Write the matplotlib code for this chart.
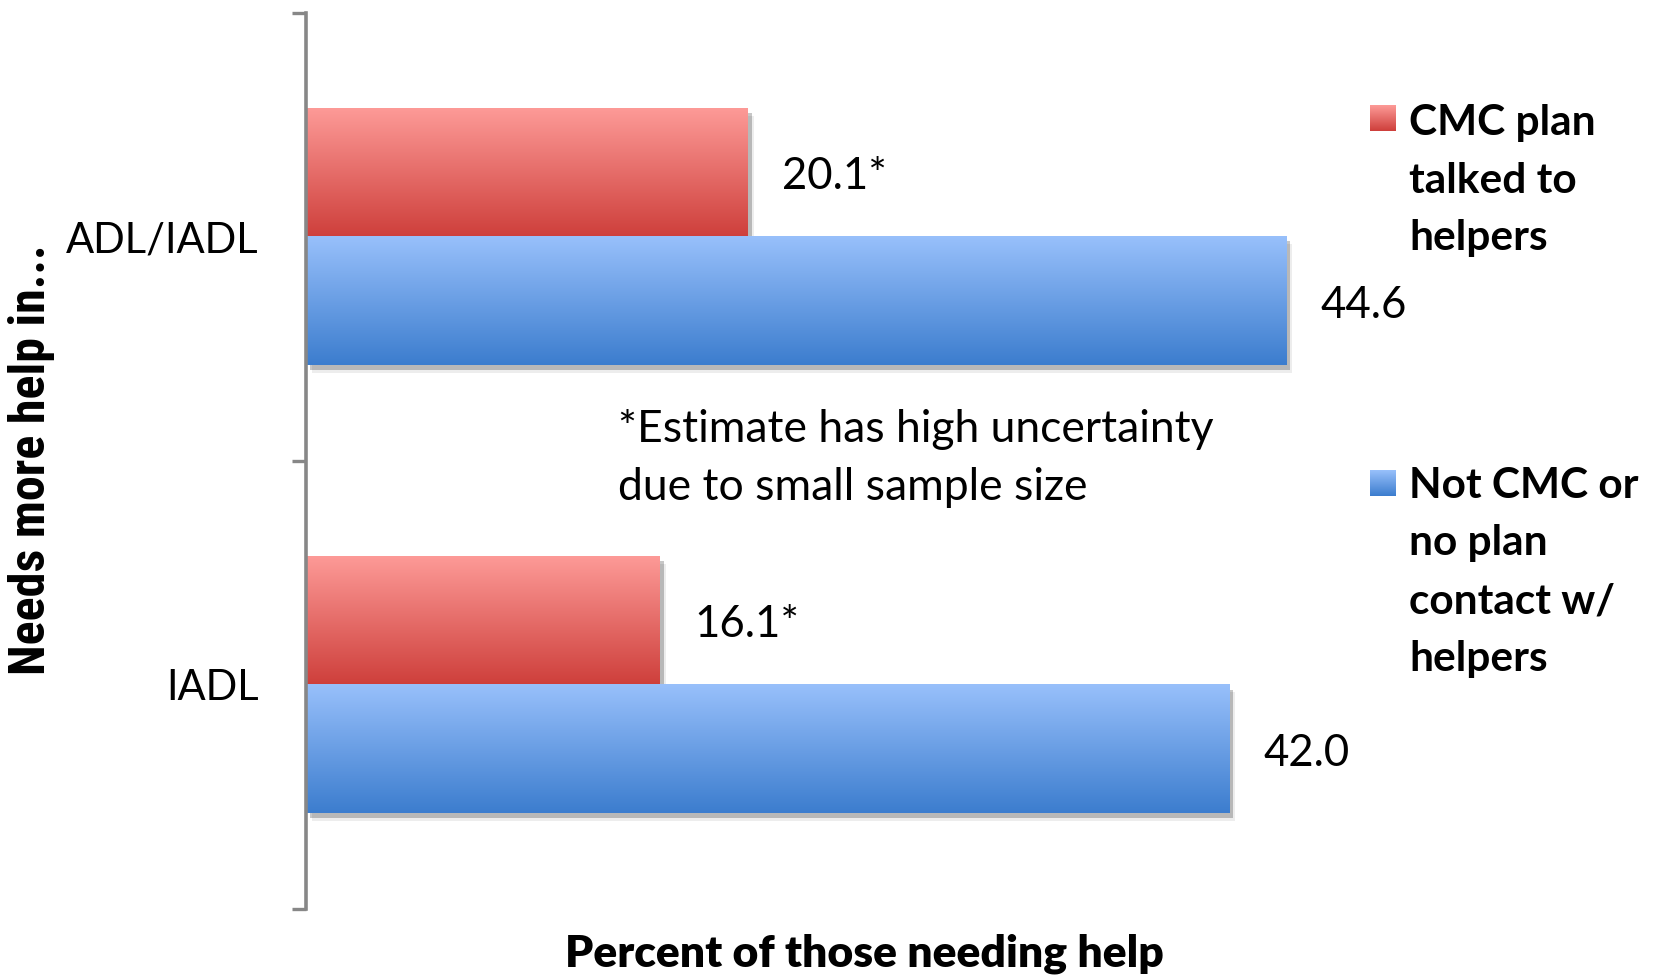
import numpy as np
import matplotlib
matplotlib.use('Agg')
import matplotlib.pyplot as plt
from matplotlib import patheffects as pe
from matplotlib.colors import to_rgb

# ---------------- data ----------------
categories = ['ADL/IADL', 'IADL']
series_names = ['CMC plan\ntalked to\nhelpers', 'Not CMC or\nno plan\ncontact w/\nhelpers']
cmc_values = [20.1, 16.1]
not_cmc_values = [44.6, 42.0]
cmc_labels = ['20.1*', '16.1*']
not_cmc_labels = ['44.6', '42.0']
x_label = 'Percent of those needing help'
y_label = 'Needs more help in...'
note = ['*Estimate has high uncertainty', 'due to small sample size']

# ---------------- style ----------------
FONT = ['Lato', 'DejaVu Sans']
COND = ['Roboto Condensed', 'Liberation Sans Narrow', 'Lato', 'DejaVu Sans']
plt.rcParams['font.family'] = FONT
RED = ('#FD9A97', '#CE3F3B')   # top, bottom
BLUE = ('#98C0FB', '#3C7DCE')
AXIS_GRAY = '#878787'
FS = 30

W, H = 1653, 975
fig = plt.figure(figsize=(W / 100, H / 100), dpi=100)
x_max = 50
ax = fig.add_axes([305.7 / W, 1 - 908.7 / H, 1099 / W, (908.7 - 12.6) / H])

ypos = np.arange(len(categories))[::-1]  # ADL/IADL on top
bh = 0.287

def gradient_bars(y, vals, colors):
    bars = ax.barh(y, vals, height=bh, color='white', linewidth=0, zorder=1)
    top, bot = np.array(to_rgb(colors[0])), np.array(to_rgb(colors[1]))
    t = np.linspace(0, 1, 256)[:, None]
    grad = (bot * (1 - t) + top * t)[:, None, :]
    for b in bars:
        b.set_path_effects([
            pe.SimplePatchShadow(offset=(4.5, -5.5), shadow_rgbFace='#000000', alpha=0.07),
            pe.SimplePatchShadow(offset=(3, -3.5), shadow_rgbFace='#000000', alpha=0.22),
            pe.Normal()])
        x0, y0 = b.get_x(), b.get_y()
        ax.imshow(grad, extent=[x0, x0 + b.get_width(), y0, y0 + b.get_height()],
                  origin='lower', aspect='auto', zorder=2, interpolation='bilinear')
    return bars

red_bars = gradient_bars(ypos + bh / 2, cmc_values, RED)
blue_bars = gradient_bars(ypos - bh / 2, not_cmc_values, BLUE)

for bars, labels in ((red_bars, cmc_labels), (blue_bars, not_cmc_labels)):
    for b, lab in zip(bars, labels):
        ax.annotate(lab, xy=(b.get_width(), b.get_y() + b.get_height() / 2),
                    xytext=(25, -3), textcoords='offset points',
                    ha='left', va='center', fontsize=31.5, color='black')

ax.set_xlim(0, x_max)
ax.set_ylim(-0.5, len(categories) - 0.5)
for s in ('top', 'right', 'bottom'):
    ax.spines[s].set_visible(False)
ax.spines['left'].set_color(AXIS_GRAY)
ax.spines['left'].set_linewidth(2.6)
ax.set_xticks([])
ax.set_yticks(ypos)
ax.set_yticklabels(categories, fontsize=FS)
ax.tick_params(axis='y', which='major', length=0, pad=34)
ax.set_yticks(np.arange(len(categories) + 1) - 0.5, minor=True)
ax.tick_params(axis='y', which='minor', length=10, width=2.4, color=AXIS_GRAY, direction='out')
ax.set_facecolor('none')

# axis titles
fig.text(31.6 / W, 1 - 459.6 / H, y_label, rotation=90, ha='center', va='center',
         fontsize=36, fontweight='heavy', family=COND)
fig.text(864 / W, 1 - 967 / H, x_label, ha='center', va='baseline',
         fontsize=32, fontweight='heavy')

# note
for i, line in enumerate(note):
    fig.text(618 / W, 1 - (430 + 57.5 * i) / H, line, ha='left', va='center', fontsize=32)

# legend (manual)
legend_rows = [(series_names[0], RED, 118, 123.3), (series_names[1], BLUE, 483, 486)]
for name, cols, sw_y, first_y in legend_rows:
    sw = fig.add_axes([1370 / W, 1 - (sw_y + 13) / H, 26 / W, 26 / H])
    top, bot = np.array(to_rgb(cols[0])), np.array(to_rgb(cols[1]))
    t = np.linspace(0, 1, 64)[:, None]
    sw.imshow((bot * (1 - t) + top * t)[:, None, :], origin='lower', aspect='auto',
              extent=[0, 1, 0, 1])
    sw.set_axis_off()
    for j, line in enumerate(name.split('\n')):
        fig.text(1409 / W, 1 - (first_y + 57.5 * j) / H, line, ha='left', va='center',
                 fontsize=30.5, fontweight='bold')

fig.savefig('out.png', dpi=100, facecolor='white')
